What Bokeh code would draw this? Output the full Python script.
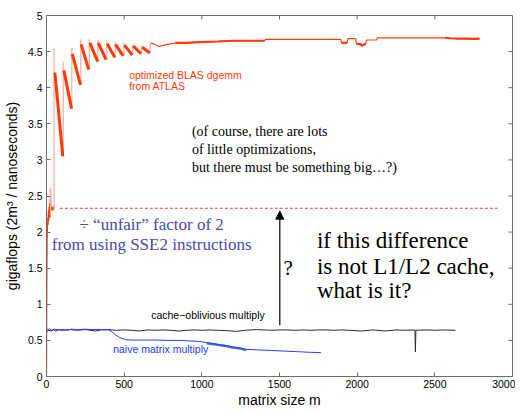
import numpy as np
from bokeh.plotting import figure
from bokeh.models import Range1d, FixedTicker, Label, Arrow, NormalHead
from bokeh.embed import file_html
from bokeh.resources import INLINE

# ---------------- data ----------------
x_ticks = [0, 500, 1000, 1500, 2000, 2500, 3000]
x_tick_labels = ["0", "500", "1000", "1500", "2000", "2500", "3000"]
y_ticks = [0, 0.5, 1, 1.5, 2, 2.5, 3, 3.5, 4, 4.5, 5]
y_tick_labels = ["0", "0.5", "1", "1.5", "2", "2.5", "3", "3.5", "4", "4.5", "5"]

# ATLAS dgemm: start-up section
blas_head_x = [0, 2, 4, 6, 8, 10, 12, 14, 16, 18, 20, 22, 24, 26, 28, 30, 34, 38, 42, 46, 50]
blas_head_y = [0.0, 1.2, 1.9, 2.05, 2.2, 2.1, 2.3, 2.15, 2.35, 2.25, 2.4, 2.2, 2.35, 2.6, 2.3,
               2.35, 2.3, 2.35, 2.3, 2.35, 2.35]
# saw-tooth section (peak -> trough of each tooth)
tooth_x0 = [54, 112, 166, 223, 279, 333, 391, 444, 502, 558, 616]
tooth_y0 = [4.21, 4.24, 4.47, 4.60, 4.62, 4.62, 4.61, 4.60, 4.59, 4.58, 4.56]
tooth_x1 = [105, 161, 219, 272, 330, 384, 440, 494, 552, 609, 665]
tooth_y1 = [3.05, 3.71, 4.04, 4.25, 4.36, 4.39, 4.42, 4.44, 4.45, 4.47, 4.48]
# light spikes between teeth
spike_x = [26, 49, 108, 163, 221, 276, 331, 388, 442, 498, 555, 612, 667]
spike_lo = [2.25, 2.3, 3.05, 3.71, 4.04, 4.25, 4.36, 4.39, 4.42, 4.44, 4.45, 4.47, 4.48]
spike_hi = [2.62, 4.55, 4.36, 4.55, 4.67, 4.67, 4.66, 4.64, 4.63, 4.62, 4.60, 4.58, 4.62]
# long flat tail
blas_tail_x = [669, 700, 723, 780, 830, 900, 981, 1100, 1195, 1300, 1405, 1410, 1600, 1800,
               1895, 1900, 1935, 1940, 1990, 1995, 2025, 2030, 2055, 2060, 2125, 2130, 2300,
               2568, 2600, 2650, 2700, 2750, 2788]
blas_tail_y = [4.62, 4.60, 4.57, 4.60, 4.62, 4.62, 4.63, 4.64, 4.65, 4.65, 4.65, 4.67, 4.67,
               4.67, 4.67, 4.62, 4.62, 4.68, 4.68, 4.61, 4.60, 4.58, 4.61, 4.66, 4.66, 4.69,
               4.69, 4.69, 4.685, 4.68, 4.68, 4.675, 4.68]
blas_thick_ranges = [(830, 1405), (1900, 1935), (1995, 2055), (2568, 2788)]

# half of ATLAS performance (SSE2 factor of 2)
sse_x = [86, 2904]
sse_y = [2.33, 2.33]

# cache-oblivious multiply
cache_x = [0, 15, 30, 45, 60, 80, 100, 150, 200, 250, 316, 350, 400, 450, 500, 550, 597, 650,
           700, 750, 800, 855, 900, 950, 1000, 1050, 1100, 1160, 1221, 1280, 1351, 1400, 1450,
           1500, 1550, 1600, 1650, 1700, 1750, 1800, 1850, 1900, 1950, 2030, 2100, 2180, 2250,
           2300, 2372, 2375, 2378, 2450, 2500, 2550, 2633]
cache_y = [0.62, 0.64, 0.63, 0.645, 0.63, 0.65, 0.64, 0.65, 0.64, 0.65, 0.63, 0.645, 0.65, 0.64,
           0.645, 0.64, 0.63, 0.645, 0.64, 0.645, 0.64, 0.63, 0.64, 0.645, 0.64, 0.645, 0.64,
           0.635, 0.625, 0.64, 0.65, 0.645, 0.64, 0.645, 0.645, 0.64, 0.645, 0.64, 0.645, 0.645,
           0.64, 0.645, 0.64, 0.63, 0.645, 0.63, 0.645, 0.64, 0.645, 0.34, 0.64, 0.645, 0.64,
           0.645, 0.64]

# naive matrix multiply
naive_x = [0, 10, 20, 30, 50, 80, 100, 130, 160, 200, 250, 300, 350, 400, 420, 446, 470, 509,
           550, 600, 700, 800, 855, 900, 950, 986, 1030, 1080, 1120, 1157, 1200, 1250, 1287,
           1350, 1400, 1450, 1502, 1550, 1600, 1650, 1700, 1767]
naive_y = [0.66, 0.65, 0.66, 0.64, 0.655, 0.645, 0.65, 0.64, 0.655, 0.65, 0.655, 0.65, 0.65,
           0.645, 0.62, 0.575, 0.54, 0.51, 0.505, 0.505, 0.505, 0.50, 0.50, 0.495, 0.49, 0.485,
           0.47, 0.455, 0.44, 0.43, 0.41, 0.395, 0.375, 0.37, 0.365, 0.36, 0.355, 0.35, 0.345,
           0.34, 0.335, 0.33]
naive_thick_range = (1000, 1300)

# ---------------- figure ----------------
SANS = "Liberation Sans"
SERIF = "Liberation Serif"
RED = "#ff3a0a"
AXC = "#6e6e6e"
X0, X1, Y0, Y1 = 0, 3000, 0, 5

p = figure(width=515, height=410, x_range=Range1d(X0, X1), y_range=Range1d(Y0, Y1),
           output_backend="svg", toolbar_location=None,
           min_border_left=40, min_border_right=3, min_border_top=15, min_border_bottom=26)
p.grid.visible = False
p.outline_line_color = AXC
p.background_fill_color = "white"
p.border_fill_color = "white"

for ax, ticks, labels in ((p.xaxis[0], x_ticks, x_tick_labels), (p.yaxis[0], y_ticks, y_tick_labels)):
    ax.ticker = FixedTicker(ticks=ticks)
    ax.major_label_overrides = {t: s for t, s in zip(ticks, labels)}
    ax.major_tick_in = 4
    ax.major_tick_out = 0
    ax.minor_tick_line_color = None
    ax.axis_line_color = AXC
    ax.major_tick_line_color = AXC
    ax.major_label_text_font = SANS
    ax.major_label_text_font_size = "10.5px"
    ax.major_label_text_color = "black"
    ax.axis_label_text_font = SANS
    ax.axis_label_text_font_size = "14px"
    ax.axis_label_text_font_style = "normal"
    ax.axis_label_text_color = "black"

p.xaxis.axis_label = "matrix size m"
p.xaxis.major_label_standoff = 3
p.xaxis.axis_label_standoff = 1
p.yaxis.axis_label = "gigaflops (2m³ / nanoseconds)"
p.yaxis.major_label_standoff = 4
p.yaxis.axis_label_standoff = 5

# inward ticks on the top and right sides of the box
tx_len = (X1 - X0) * 4 / 464
ty_len = (Y1 - Y0) * 4 / 367
p.segment(x0=x_ticks, y0=[Y1] * len(x_ticks), x1=x_ticks, y1=[Y1 - ty_len] * len(x_ticks),
          line_color=AXC, line_width=1)
p.segment(x0=[X1] * len(y_ticks), y0=y_ticks, x1=[X1 - tx_len] * len(y_ticks), y1=y_ticks,
          line_color=AXC, line_width=1)

# ATLAS curve
p.line(blas_head_x, blas_head_y, line_color=RED, line_width=1.2)
p.segment(x0=spike_x, y0=spike_lo, x1=spike_x, y1=spike_hi, line_color="#ffb2a6", line_width=1.3)
p.segment(x0=tooth_x0, y0=tooth_y0, x1=tooth_x1, y1=tooth_y1, line_color=RED, line_width=3.0)
p.line(blas_tail_x, blas_tail_y, line_color=RED, line_width=1.1)
tx = np.array(blas_tail_x)
ty = np.array(blas_tail_y)
for lo, hi in blas_thick_ranges:
    m = (tx >= lo) & (tx <= hi)
    p.line(tx[m], ty[m], line_color=RED, line_width=2.2)

p.line(sse_x, sse_y, line_color="#ff3a3a", line_width=1, line_dash="3 2")

# lower curves
p.line(cache_x, cache_y, line_color="#2a2a2a", line_width=1)
p.line(naive_x, naive_y, line_color="#2040ff", line_width=1)
nx = np.array(naive_x)
ny = np.array(naive_y)
m = (nx >= naive_thick_range[0]) & (nx <= naive_thick_range[1])
p.line(nx[m], ny[m] - 0.01, line_color="#2040ff", line_width=2.2, line_alpha=0.8)

p.add_layout(Arrow(end=NormalHead(size=8, fill_color="black", line_color="black"),
                   x_start=1502, y_start=0.71, x_end=1502, y_end=2.29,
                   line_color="black", line_width=1.2))

def lab(x, y, text, font, size, color, align="left"):
    p.add_layout(Label(x=x, y=y, text=text, text_font=font, text_font_size=size,
                       text_color=color, text_baseline="middle", text_align=align))

lab(532, 4.18, "optimized BLAS dgemm", SANS, "10.5px", RED)
lab(532, 4.02, "from ATLAS", SANS, "10.5px", RED)
lab(936, 3.39, "(of course, there are lots", SERIF, "14px", "black")
lab(936, 3.14, "of little optimizations,", SERIF, "14px", "black")
lab(936, 2.89, "but there must be something big…?)", SERIF, "14px", "black")
lab(677, 2.10, "÷ “unfair” factor of 2", SERIF, "17px", "#4b4bab", "center")
lab(677, 1.83, "from using SSE2 instructions", SERIF, "17px", "#4b4bab", "center")
lab(1741, 1.89, "if this difference", SERIF, "23px", "black")
lab(1741, 1.53, "is not L1/L2 cache,", SERIF, "23px", "black")
lab(1741, 1.19, "what is it?", SERIF, "23px", "black")
lab(1555, 1.50, "?", SERIF, "21px", "black", "center")
lab(674, 0.845, "cache−oblivious multiply", SANS, "10.5px", "black")
lab(429, 0.385, "naive matrix multiply", SANS, "10.5px", "#2040ff")

open("out.html", "w").write(file_html(p, INLINE))
